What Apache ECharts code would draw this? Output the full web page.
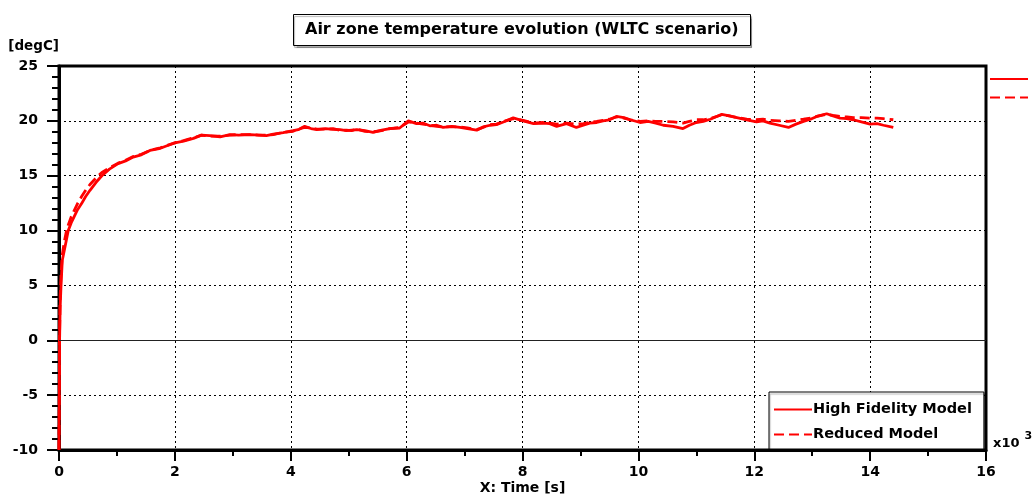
<!DOCTYPE html>
<html>
<head>
<meta charset="utf-8">
<script src="https://cdn.jsdelivr.net/npm/echarts@6/dist/echarts.min.js"></script>
<style>
html,body{margin:0;padding:0;background:#fff;}
#chart{width:1032px;height:495px;}
</style>
</head>
<body>
<div id="chart"></div>
<script>
var timeSec = [0,5,10,20,35,57,92,130,160,210,260,320,390,460,535,640,740,870,1020,1150,1280,1420,1570,1750,2000,2150,2320,2460,2600,2780,2950,3100,3300,3450,3580,3700,3870,4040,4130,4240,4350,4450,4600,4730,4850,4960,5050,5140,5280,5420,5570,5710,5880,6030,6170,6280,6400,6520,6630,6780,6920,7050,7210,7320,7440,7550,7670,7840,8010,8190,8360,8470,8590,8760,8930,9050,9160,9280,9390,9500,9620,9750,9860,10030,10170,10300,10430,10600,10770,10880,11000,11120,11240,11440,11570,11700,11870,12040,12150,12270,12430,12590,12720,12850,12970,13080,13250,13360,13480,13600,13710,13850,14000,14120,14230,14400];

var highFidelity = [-10,-5,0,3,5,7.3,8.2,9.2,10.0,10.7,11.24,11.9,12.46,13.1,13.67,14.4,15.0,15.6,16.1,16.35,16.7,16.9,17.3,17.5,18.0,18.15,18.4,18.7,18.65,18.55,18.75,18.7,18.75,18.7,18.65,18.8,18.93,19.1,19.2,19.5,19.3,19.2,19.3,19.23,19.2,19.1,19.15,19.2,19.1,18.95,19.15,19.3,19.35,20.0,19.75,19.8,19.55,19.6,19.4,19.5,19.4,19.3,19.15,19.45,19.6,19.65,19.9,20.27,20.0,19.75,19.8,19.75,19.5,19.75,19.4,19.6,19.8,19.85,20.0,20.1,20.4,20.3,20.1,19.85,19.95,19.8,19.6,19.5,19.3,19.6,19.85,19.95,20.15,20.6,20.45,20.3,20.1,19.9,20.0,19.8,19.6,19.4,19.7,19.95,20.15,20.4,20.65,20.45,20.25,20.2,20.1,19.9,19.7,19.75,19.6,19.4];

var reducedModel = [-10,-5,0.5,4,6,7.8,9.0,10.0,10.5,11.24,11.8,12.46,13.1,13.67,14.2,14.8,15.3,15.7,16.15,16.4,16.75,16.95,17.3,17.55,18.0,18.2,18.45,18.7,18.6,18.6,18.7,18.75,18.75,18.7,18.7,18.75,18.95,19.05,19.25,19.4,19.35,19.25,19.25,19.3,19.15,19.15,19.1,19.25,19.05,19.0,19.1,19.3,19.4,19.9,19.8,19.7,19.6,19.5,19.45,19.45,19.45,19.35,19.2,19.4,19.65,19.7,19.95,20.2,20.05,19.8,19.85,19.8,19.7,19.8,19.7,19.75,19.85,19.95,20.05,20.15,20.35,20.25,20.1,19.95,20.0,19.95,19.95,19.9,19.8,19.95,20.1,20.1,20.2,20.55,20.45,20.3,20.15,20.1,20.15,20.05,20.0,19.95,20.05,20.15,20.25,20.4,20.6,20.5,20.4,20.35,20.3,20.3,20.25,20.25,20.2,20.1];

var seriesNames = ['High Fidelity Model', 'Reduced Model'];
var titleText = 'Air zone temperature evolution (WLTC scenario)';
var yUnit = '[degC]';
var xName = 'X: Time [s]';

function pairs(xs, ys){ return xs.map(function(x,i){ return [x, ys[i]]; }); }

var FONT = 'DejaVu Sans';
var chart = echarts.init(document.getElementById('chart'), null, {renderer:'canvas'});
chart.setOption({
  animation: false,
  backgroundColor: '#fff',
  title: {
    text: titleText,
    left: 293, top: 14,
    borderColor: '#000', borderWidth: 1,
    backgroundColor: '#fff',
    padding: [8, 12, 8, 12],
    shadowColor: 'rgba(0,0,0,0.3)', shadowOffsetX: 1, shadowOffsetY: 2, shadowBlur: 1,
    textStyle: {fontFamily: FONT, fontWeight: 'bold', fontSize: 16, color: '#000'}
  },
  legend: [{
    data: seriesNames,
    orient: 'vertical',
    left: 769, top: 392,
    itemWidth: 38, itemHeight: 14, itemGap: 10,
    padding: [10, 12, 7, 4],
    borderColor: '#000', borderWidth: 1,
    backgroundColor: '#fff',
    shadowColor: 'rgba(0,0,0,0.3)', shadowOffsetX: 1, shadowOffsetY: 2, shadowBlur: 1,
    itemStyle: {opacity: 0},
    textStyle: {fontFamily: FONT, fontWeight: 'bold', fontSize: 14.5, color: '#000', padding: [0,0,0,-4]}
  }, {
    data: seriesNames,
    orient: 'vertical',
    left: 989, top: 72,
    itemWidth: 38, itemHeight: 14, itemGap: 6,
    padding: 0,
    itemStyle: {opacity: 0},
    formatter: function(){ return ''; },
    selectedMode: false,
    textStyle: {fontSize: 1}
  }],
  grid: {
    left: 59, right: 46, top: 66, bottom: 45,
    show: true, borderColor: '#000', borderWidth: 3,
    containLabel: false, outerBoundsMode: 'none'
  },
  xAxis: {
    type: 'value', min: 0, max: 16000, interval: 2000,
    name: xName, nameLocation: 'middle', nameGap: 31, nameMoveOverlap: false,
    nameTextStyle: {fontFamily: FONT, fontWeight: 'bold', fontSize: 14, color: '#000'},
    axisLine: {onZero: false, lineStyle: {color: '#000', width: 3}},
    axisTick: {show: true, length: 11, lineStyle: {color: '#000', width: 2}},
    minorTick: {show: true, splitNumber: 2, length: 6, lineStyle: {color: '#000', width: 2}},
    axisLabel: {
      margin: 15, color: '#000', fontFamily: FONT, fontWeight: 'bold', fontSize: 14,
      formatter: function(v){ return String(v/1000); }
    },
    splitLine: {show: true, lineStyle: {color: '#000', width: 1, type: [2, 3]}}
  },
  yAxis: {
    type: 'value', min: -10, max: 25, interval: 5,
    name: yUnit, nameLocation: 'end', nameGap: 20, nameMoveOverlap: false,
    nameTextStyle: {fontFamily: FONT, fontWeight: 'bold', fontSize: 13.5, color: '#000', align: 'right', verticalAlign: 'middle'},
    axisLine: {onZero: false, lineStyle: {color: '#000', width: 3}},
    axisTick: {show: true, length: 12, lineStyle: {color: '#000', width: 2}},
    minorTick: {show: true, splitNumber: 5, length: 7, lineStyle: {color: '#000', width: 2}},
    axisLabel: {margin: 21, color: '#000', fontFamily: FONT, fontWeight: 'bold', fontSize: 14},
    splitLine: {show: true, lineStyle: {color: '#000', width: 1, type: [2, 3]}}
  },
  graphic: [{
    type: 'text', left: 993, top: 431,
    style: {
      text: '{a|x10}{b|3}',
      rich: {
        a: {fontFamily: FONT, fontWeight: 'bold', fontSize: 13, fill: '#000', verticalAlign: 'bottom'},
        b: {fontFamily: FONT, fontWeight: 'bold', fontSize: 11, fill: '#000', padding: [0,0,8,5]}
      }
    }
  }],
  series: [{
    name: seriesNames[0], type: 'line', data: pairs(timeSec, highFidelity),
    showSymbol: false, symbol: 'none', smooth: false,
    lineStyle: {color: '#ff0000', width: 2.8, type: 'solid'},
    itemStyle: {color: '#ff0000'},
    z: 3,
    markLine: {
      silent: true, symbol: 'none', label: {show: false},
      lineStyle: {color: '#222', width: 1.2, type: 'solid'},
      data: [{yAxis: 0}]
    }
  }, {
    name: seriesNames[1], type: 'line', data: pairs(timeSec, reducedModel),
    showSymbol: false, symbol: 'none', smooth: false,
    lineStyle: {color: '#ff0000', width: 2.8, type: [10, 5]},
    itemStyle: {color: '#ff0000'},
    z: 4
  }]
});
</script>
</body>
</html>
